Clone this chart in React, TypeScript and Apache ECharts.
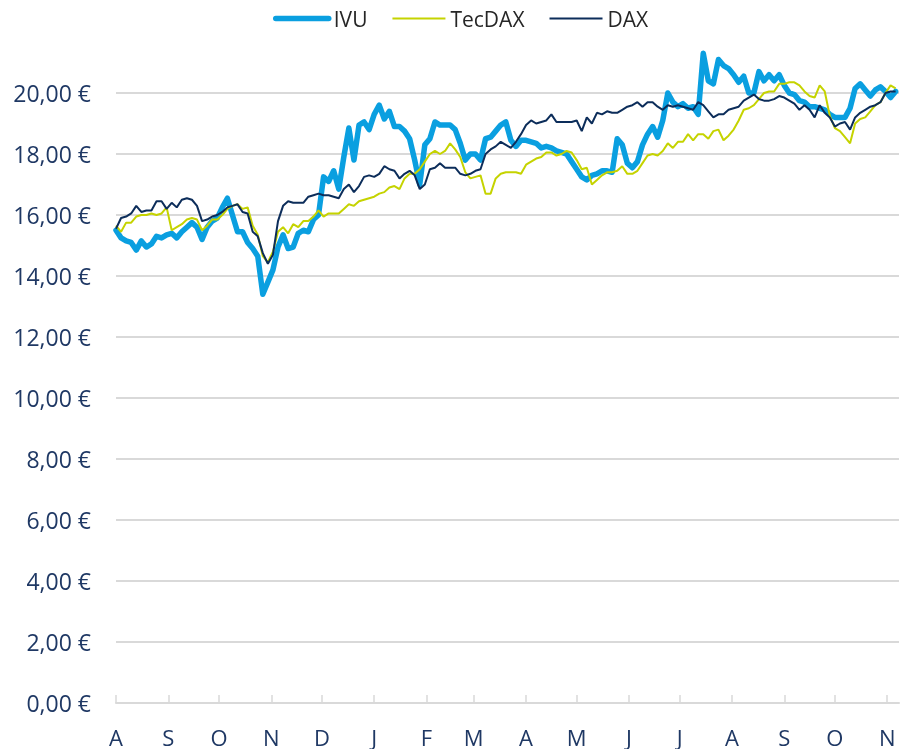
import React, { useEffect, useRef } from "react";
import * as echarts from "echarts";

// Month tick positions (days since 1 Aug) and their labels
const monthStarts = [0, 31, 61, 92, 122, 153, 184, 212, 243, 273, 304, 334, 365, 396, 426, 457];
const monthLabels = ["A", "S", "O", "N", "D", "J", "F", "M", "A", "M", "J", "J", "A", "S", "O", "N"];

// One sample every 3 calendar days, starting 1 Aug
const SAMPLE_STEP_DAYS = 3;

const ivu = [
  15.5, 15.25, 15.15, 15.1, 14.85, 15.15, 14.95, 15.05, 15.3, 15.25,
  15.35, 15.4, 15.25, 15.45, 15.6, 15.75, 15.6, 15.2, 15.6, 15.8,
  15.9, 16.25, 16.55, 16.0, 15.45, 15.45, 15.1, 14.9, 14.65, 13.4,
  13.8, 14.2, 14.95, 15.35, 14.9, 14.95, 15.4, 15.5, 15.45, 15.85,
  16.0, 17.25, 17.1, 17.45, 16.85, 17.9, 18.85, 17.8, 18.95, 19.05,
  18.8, 19.3, 19.6, 19.15, 19.4, 18.9, 18.9, 18.75, 18.5, 17.8,
  17.0, 18.3, 18.5, 19.05, 18.95, 18.95, 18.95, 18.8, 18.35, 17.8,
  18.0, 18.0, 17.8, 18.5, 18.55, 18.75, 18.95, 19.05, 18.45, 18.25,
  18.45, 18.45, 18.4, 18.35, 18.2, 18.25, 18.2, 18.1, 18.05, 18.0,
  17.75, 17.5, 17.25, 17.15, 17.3, 17.35, 17.45, 17.45, 17.4, 18.5,
  18.3, 17.7, 17.55, 17.75, 18.3, 18.65, 18.9, 18.55, 19.1, 20.0,
  19.7, 19.55, 19.65, 19.5, 19.55, 19.3, 21.3, 20.4, 20.3, 21.1,
  20.9, 20.8, 20.6, 20.35, 20.55, 20.0, 20.0, 20.7, 20.4, 20.6,
  20.4, 20.6, 20.25, 20.0, 19.95, 19.75, 19.7, 19.55, 19.55, 19.5,
  19.45, 19.3, 19.2, 19.2, 19.2, 19.5, 20.15, 20.3, 20.1, 19.9,
  20.1, 20.2, 20.05, 19.85, 20.05,
];

const tecdax = [
  15.65, 15.45, 15.75, 15.75, 15.95, 16.0, 16.0, 16.05, 16.0, 16.05,
  16.25, 15.5, 15.6, 15.7, 15.85, 15.9, 15.85, 15.5, 15.65, 15.85,
  15.85, 16.0, 16.2, 16.3, 16.35, 16.2, 16.25, 15.65, 15.35, 14.65,
  14.45, 14.8, 15.45, 15.6, 15.4, 15.7, 15.6, 15.8, 15.8, 15.95,
  16.15, 15.95, 16.05, 16.05, 16.05, 16.2, 16.35, 16.3, 16.45, 16.5,
  16.55, 16.6, 16.7, 16.75, 16.9, 16.95, 16.85, 17.2, 17.35, 17.35,
  17.5, 17.75, 18.0, 18.1, 18.0, 18.1, 18.35, 18.15, 17.9, 17.4,
  17.2, 17.25, 17.3, 16.7, 16.7, 17.2, 17.35, 17.4, 17.4, 17.4,
  17.35, 17.65, 17.75, 17.85, 17.9, 18.05, 18.05, 17.95, 18.0, 18.1,
  18.05, 17.8, 17.5, 17.55, 17.0, 17.15, 17.3, 17.4, 17.4, 17.45,
  17.6, 17.35, 17.35, 17.45, 17.7, 17.95, 18.0, 17.95, 18.1, 18.35,
  18.2, 18.4, 18.4, 18.65, 18.45, 18.65, 18.65, 18.5, 18.75, 18.8,
  18.45, 18.6, 18.8, 19.1, 19.45, 19.5, 19.6, 19.8, 20.0, 20.05,
  20.05, 20.3, 20.3, 20.35, 20.35, 20.25, 20.05, 19.9, 19.85, 20.25,
  20.05, 19.25, 18.85, 18.75, 18.55, 18.35, 19.0, 19.15, 19.2, 19.4,
  19.6, 19.7, 20.0, 20.25, 20.15,
];

const dax = [
  15.55, 15.9, 15.95, 16.05, 16.3, 16.1, 16.15, 16.15, 16.45, 16.45,
  16.2, 16.4, 16.25, 16.5, 16.55, 16.5, 16.3, 15.8, 15.85, 15.95,
  16.0, 16.1, 16.25, 16.3, 16.35, 16.1, 16.05, 15.45, 15.3, 14.75,
  14.4, 14.7, 15.8, 16.3, 16.45, 16.4, 16.4, 16.4, 16.6, 16.65,
  16.7, 16.65, 16.65, 16.6, 16.55, 16.85, 17.0, 16.75, 16.95, 17.25,
  17.3, 17.25, 17.35, 17.6, 17.5, 17.45, 17.2, 17.35, 17.45, 17.3,
  16.85, 17.0, 17.5, 17.55, 17.7, 17.55, 17.55, 17.55, 17.35, 17.3,
  17.35, 17.45, 17.5, 18.0, 18.15, 18.25, 18.4, 18.3, 18.2, 18.4,
  18.65, 18.95, 19.1, 19.0, 19.05, 19.1, 19.3, 19.05, 19.05, 19.05,
  19.05, 19.1, 18.75, 19.2, 19.0, 19.35, 19.3, 19.4, 19.35, 19.35,
  19.45, 19.55, 19.6, 19.7, 19.55, 19.7, 19.7, 19.55, 19.45, 19.6,
  19.55, 19.6, 19.55, 19.5, 19.45, 19.7, 19.6, 19.4, 19.2, 19.3,
  19.3, 19.45, 19.5, 19.55, 19.75, 19.85, 19.95, 19.8, 19.75, 19.75,
  19.8, 19.9, 19.85, 19.75, 19.65, 19.45, 19.6, 19.45, 19.2, 19.6,
  19.35, 19.2, 18.9, 19.0, 19.05, 18.8, 19.2, 19.35, 19.45, 19.55,
  19.6, 19.7, 20.0, 20.05, 20.05,
];

const FONT = "'Open Sans', 'Noto Sans', sans-serif";
const NAVY_TEXT = "#1f3864";
const GRID_GRAY = "#d9d9d9";
const IVU_COLOR = "#0a9fe0";
const TEC_COLOR = "#c5d300";
const DAX_COLOR = "#0c2d5a";

export default function App() {
  const ref = useRef<HTMLDivElement>(null);

  useEffect(() => {
    if (!ref.current) return;
    const chart = echarts.init(ref.current, null, { renderer: "svg" });
    const toPairs = (vals: number[]) => vals.map((v, i) => [i * SAMPLE_STEP_DAYS, v]);
    const hiddenSymbol = { opacity: 0, borderWidth: 0 };

    chart.setOption({
      animation: false,
      textStyle: { fontFamily: FONT },
      legend: {
        top: 8,
        left: 273,
        padding: 0,
        itemWidth: 53,
        itemHeight: 12,
        itemGap: 24,
        textStyle: { fontSize: 21, color: "#262626", fontFamily: FONT },
        data: [
          { name: "IVU", lineStyle: { width: 5.5, cap: "round" }, itemStyle: hiddenSymbol },
          { name: "TecDAX", lineStyle: { width: 2 }, itemStyle: hiddenSymbol },
          { name: "DAX", lineStyle: { width: 2 }, itemStyle: hiddenSymbol },
        ],
      },
      grid: { left: 116, right: 5, top: 93, bottom: 46 },
      xAxis: {
        type: "value",
        min: 0,
        max: 464,
        axisLine: { show: true, lineStyle: { color: GRID_GRAY, width: 2 } },
        axisTick: {
          show: true,
          inside: true,
          length: 8,
          customValues: monthStarts,
          lineStyle: { color: GRID_GRAY, width: 1.5 },
        },
        axisLabel: {
          customValues: monthStarts,
          formatter: (v: number) => {
            const idx = monthStarts.indexOf(Math.round(v));
            return idx >= 0 ? monthLabels[idx] : "";
          },
          fontSize: 22,
          lineHeight: 20,
          color: NAVY_TEXT,
          margin: 24,
          fontFamily: FONT,
        },
        splitLine: { show: false },
      },
      yAxis: {
        type: "value",
        min: 0,
        max: 20,
        interval: 2,
        axisLine: { show: false },
        axisTick: { show: false },
        axisLabel: {
          formatter: (v: number) => v.toFixed(2).replace(".", ",") + " €",
          fontSize: 23,
          color: NAVY_TEXT,
          margin: 25,
          fontFamily: FONT,
        },
        splitLine: { lineStyle: { color: GRID_GRAY, width: 2 } },
      },
      series: [
        {
          name: "IVU",
          type: "line",
          data: toPairs(ivu),
          symbol: "none",
          clip: false,
          lineStyle: { color: IVU_COLOR, width: 5.5, join: "round", cap: "round" },
          itemStyle: { color: IVU_COLOR },
        },
        {
          name: "TecDAX",
          type: "line",
          data: toPairs(tecdax),
          symbol: "none",
          clip: false,
          lineStyle: { color: TEC_COLOR, width: 2 },
          itemStyle: { color: TEC_COLOR },
        },
        {
          name: "DAX",
          type: "line",
          data: toPairs(dax),
          symbol: "none",
          clip: false,
          lineStyle: { color: DAX_COLOR, width: 2 },
          itemStyle: { color: DAX_COLOR },
        },
      ],
    });

    return () => chart.dispose();
  }, []);

  return (
    <div
      ref={ref}
      style={{ position: "fixed", left: 0, top: 0, width: 904, height: 749 }}
    />
  );
}
